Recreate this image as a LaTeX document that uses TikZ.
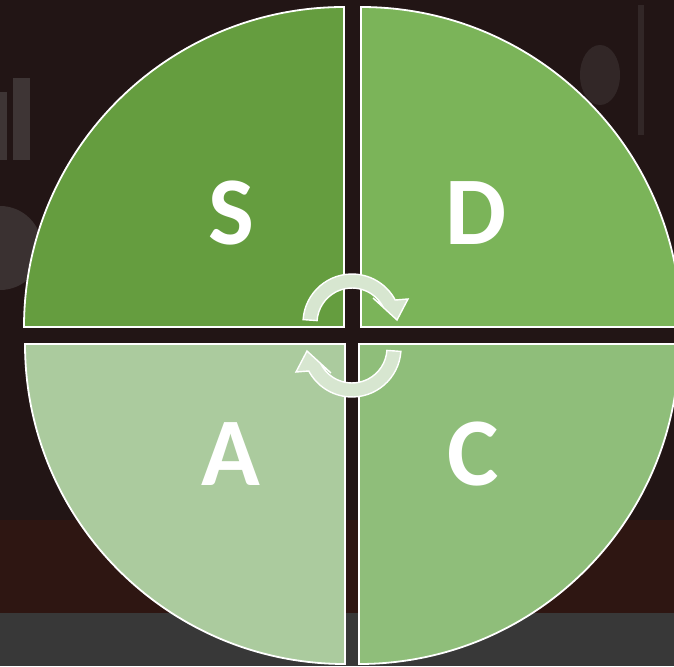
\documentclass[tikz,border=0pt]{standalone}
\usepackage{fontspec}
\setmainfont{Carlito}
\definecolor{bgdark}{HTML}{221515}
\definecolor{bgband}{HTML}{2E1612}
\definecolor{floorgray}{HTML}{383838}
\definecolor{ghost}{HTML}{4B4444}
\definecolor{sgreen}{HTML}{659D3F}
\definecolor{dgreen}{HTML}{7BB459}
\definecolor{cgreen}{HTML}{8FBE7A}
\definecolor{agreen}{HTML}{ABCB9E}
\definecolor{cyclefill}{HTML}{D7E6D0}

\begin{document}
\begin{tikzpicture}[x=1pt, y=-1pt,
    quarter/.style={draw=white, line width=1.8pt},
    letter/.style={font=\fontsize{97}{97}\selectfont\bfseries, text=white, inner sep=0pt},
    turn/.style={fill=cyclefill, draw=white, line width=1.4pt}]
    \useasboundingbox (0,0) rectangle (674,666);

    % backdrop
    \fill[bgdark] (0,0) rectangle (674,666);
    \fill[bgband] (0,520) rectangle (674,613);
    \fill[floorgray] (0,613) rectangle (674,666);
    \fill[ghost, opacity=.7] (0,92) rectangle (7,160);
    \fill[ghost, opacity=.7] (13,78) rectangle (30,160);
    \fill[ghost, opacity=.6] (0,248) circle[radius=42];
    \fill[ghost, opacity=.4] (600,75) ellipse[x radius=20, y radius=30];
    \fill[ghost, opacity=.4] (638,5) rectangle (644,135);

    % the four quarters
    \filldraw[quarter, fill=sgreen] (344,327) -- ++(-320,0) arc[start angle=180, end angle=270, radius=320] -- cycle;
    \filldraw[quarter, fill=dgreen] (361,327) -- ++(0,-320) arc[start angle=270, end angle=360, radius=320] -- cycle;
    \filldraw[quarter, fill=cgreen] (359,344) -- ++(320,0) arc[start angle=0, end angle=90, radius=320] -- cycle;
    \filldraw[quarter, fill=agreen] (345,344) -- ++(0,320) arc[start angle=90, end angle=180, radius=320] -- cycle;

    \node[letter] (s) at (231,213) {S};
    \node[letter] (d) at (476,213) {D};
    \node[letter] (a) at (231,454) {A};
    \node[letter] (c) at (473,454) {C};

    % cycle arrows in the middle
    \foreach \rot in {0,180}{
      \begin{scope}[rotate around={\rot:(352,335.5)}]
        \filldraw[turn] (303.1,319.6) arc[start angle=184, end angle=332, radius=49]
          -- (408,299) -- (397,320) -- (373,298)
          -- (382.9,306.6) arc[start angle=332, end angle=184, radius=35] -- cycle;
      \end{scope}
    }
\end{tikzpicture}
\end{document}
